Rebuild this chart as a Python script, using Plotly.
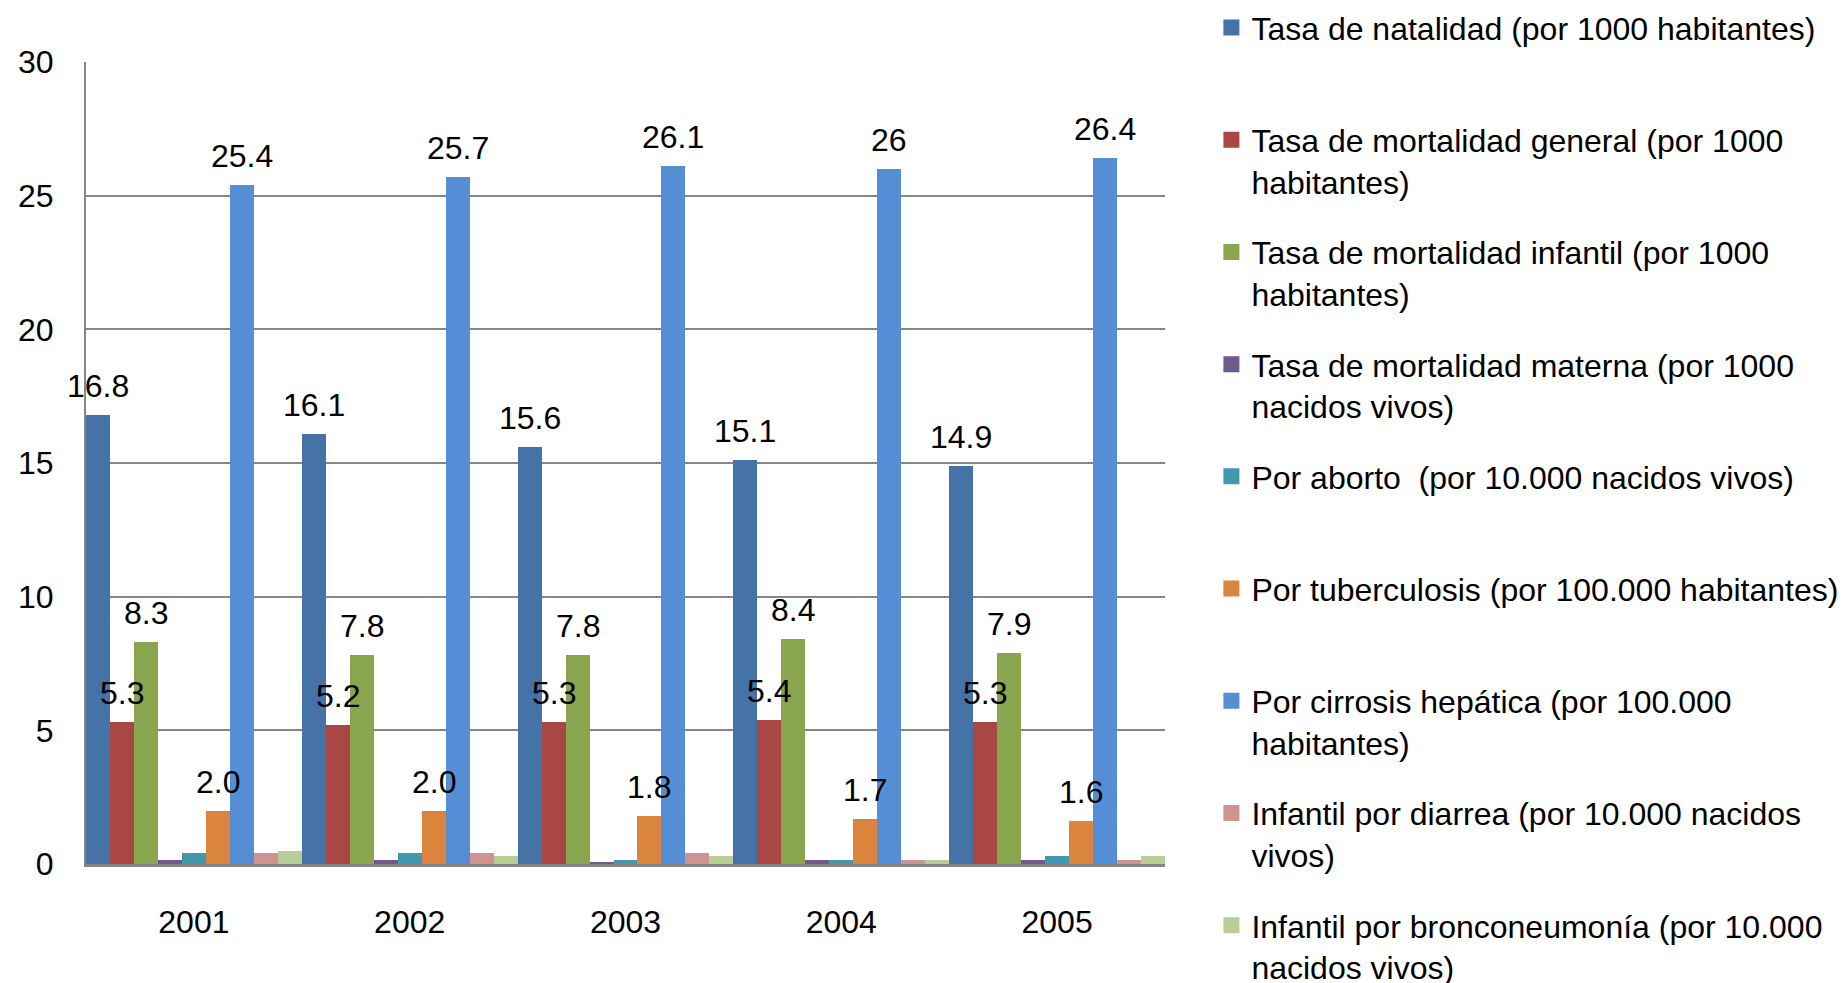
import plotly.graph_objects as go

years = ["2001", "2002", "2003", "2004", "2005"]

natalidad = [16.8, 16.1, 15.6, 15.1, 14.9]
mort_general = [5.3, 5.2, 5.3, 5.4, 5.3]
mort_infantil = [8.3, 7.8, 7.8, 8.4, 7.9]
mort_materna = [0.15, 0.15, 0.08, 0.15, 0.15]
por_aborto = [0.4, 0.4, 0.15, 0.15, 0.3]
por_tuberculosis = [2.0, 2.0, 1.8, 1.7, 1.6]
por_cirrosis = [25.4, 25.7, 26.1, 26.0, 26.4]
inf_diarrea = [0.4, 0.4, 0.4, 0.15, 0.15]
inf_bronco = [0.5, 0.3, 0.3, 0.15, 0.3]

series = [
    ("Tasa de natalidad (por 1000 habitantes)<br> ", natalidad, "#4572A7", "{:g}"),
    ("Tasa de mortalidad general (por 1000<br>habitantes)", mort_general, "#AA4643", "{:g}"),
    ("Tasa de mortalidad infantil (por 1000<br>habitantes)", mort_infantil, "#89A54E", "{:g}"),
    ("Tasa de mortalidad materna (por 1000<br>nacidos vivos)", mort_materna, "#71588F", None),
    ("Por aborto \u00a0(por 10.000 nacidos vivos)<br> ", por_aborto, "#4198AF", None),
    ("Por tuberculosis (por 100.000 habitantes)<br> ", por_tuberculosis, "#DB843D", "{:.1f}"),
    ("Por cirrosis hepática (por 100.000<br>habitantes)", por_cirrosis, "#558ED5", "{:g}"),
    ("Infantil por diarrea (por 10.000 nacidos<br>vivos)", inf_diarrea, "#D19392", None),
    ("Infantil por bronconeumonía (por 10.000<br>nacidos vivos)", inf_bronco, "#B9CD96", None),
]

FONT = "Liberation Sans"
FS = 32
n = len(series)

fig = go.Figure()
for i, (name, vals, color, fmt) in enumerate(series):
    fig.add_trace(go.Bar(
        x=years, y=vals, name=name, offsetgroup=str(i),
        marker=dict(color=color, line=dict(width=0)),
        legendgroup=f"g{i}", showlegend=False))

# legend entries (square swatches)
for i, (name, vals, color, fmt) in enumerate(series):
    fig.add_trace(go.Scatter(
        x=[None], y=[None], mode="markers", name=name, legendgroup=f"g{i}",
        marker=dict(symbol="square", size=18, color=color), showlegend=True))

# data labels above bars (bar slot offset within each category, gap = 0)
annotations = []
for i, (name, vals, color, fmt) in enumerate(series):
    if not fmt:
        continue
    offset = (i - (n - 1) / 2) / n
    for j, v in enumerate(vals):
        annotations.append(dict(
            x=j + offset, y=v, xref="x", yref="y", text=fmt.format(v),
            showarrow=False, yanchor="bottom", xanchor="center", yshift=9,
            font=dict(family=FONT, size=FS, color="black")))

fig.update_layout(
    width=1845, height=983,
    margin=dict(l=78, r=688, t=54, b=127, autoexpand=False),
    paper_bgcolor="white", plot_bgcolor="white",
    barmode="group", bargap=0, bargroupgap=0,
    font=dict(family=FONT, size=FS, color="black"),
    annotations=annotations,
    legend=dict(
        x=1.043, xanchor="left", y=1.077, yanchor="top",
        font=dict(family=FONT, size=FS, color="black"),
        traceorder="grouped", tracegroupgap=26, valign="top",
        bgcolor="rgba(0,0,0,0)", borderwidth=0, maxheight=1200,
        itemsizing="trace",
    ),
    xaxis=dict(
        type="category", range=[-0.5, len(years) - 0.5],
        showgrid=False, showline=True, linecolor="#868686", linewidth=3,
        ticks="", ticklabelstandoff=28, tickfont=dict(family=FONT, size=FS, color="black"),
    ),
    yaxis=dict(
        range=[0, 30], dtick=5, showgrid=True, gridcolor="#868686", gridwidth=2,
        showline=True, linecolor="#868686", linewidth=2, zeroline=False,
        ticks="", ticklabelstandoff=24, tickfont=dict(family=FONT, size=FS, color="black"),
    ),
)

fig.write_html("out.html")
